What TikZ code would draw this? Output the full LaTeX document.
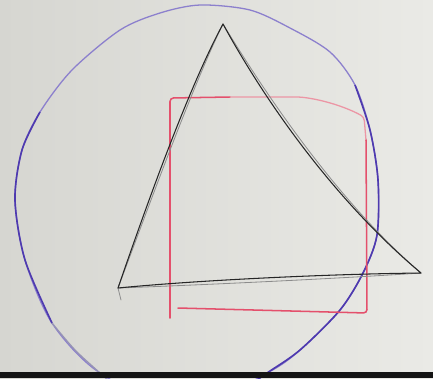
\documentclass[tikz,border=0pt]{standalone}
\usetikzlibrary{calc}
\definecolor{PenPurple}{RGB}{78,58,175}
\definecolor{PalePurple}{RGB}{140,128,205}
\definecolor{FadedPurple}{RGB}{150,148,180}
\definecolor{MarkerRed}{RGB}{228,80,108}
\definecolor{PaleRed}{RGB}{236,150,165}
\definecolor{BoardLight}{RGB}{234,234,230}
\definecolor{BoardDark}{RGB}{214,214,209}
\tikzset{
  ring/.style={draw=PalePurple,line width=1.1pt},
  ringdark/.style={draw=PenPurple,line width=1.4pt},
  ringfaded/.style={draw=FadedPurple,line width=1.1pt},
  sq/.style={draw=MarkerRed,line width=1.3pt,rounded corners=3pt,line cap=round},
  sqpale/.style={draw=PaleRed,line width=1.1pt,rounded corners=3pt,line cap=round},
  pen/.style={draw=black!85,line width=0.9pt,line cap=round,line join=round},
  ghost/.style={draw=black!45,line width=0.7pt,line cap=round},
}

\begin{document}
\begin{tikzpicture}[x=0.03cm,y=-0.03cm]
\shade[left color=BoardDark,right color=BoardLight] (0,0) rectangle (433,378);
\useasboundingbox (0,0) rectangle (433,378);
\draw[ring] plot[smooth cycle] coordinates {(200,5) (250,10) (290,28) (330,52) (355,85) (370,130) (378,180) (377,235) (363,273) (340,310) (300,350) (267,373) (185,410) (100,373) (52,323) (25,260) (15,200) (22,150) (40,112) (72,70) (120,30) (160,13)};
\draw[ringdark] plot[smooth] coordinates {(40,112) (22,150) (15,200) (25,260) (52,323)};
\draw[ringdark] plot[smooth] coordinates {(355,85) (370,130) (378,180) (377,235) (363,273) (340,310) (300,350) (267,373) (250,385)};
\draw[ringfaded] plot[smooth] coordinates {(52,323) (75,350) (100,373) (110,382)};
\draw[sq] (230,97) -- (170,98) -- (170,318);
\draw[sqpale] (230,97) -- (300,97) .. controls (325,100) and (348,108) .. (364,117) -- (366,140);
\draw[sq] (366,140) -- (367,313) -- (178,308);
\coordinate (A) at (223,24);
\coordinate (B) at (118,288);
\coordinate (C) at (421,273);
\draw[ghost] (121,300) -- (B) .. controls (153,195) and (193,85) .. (A);
\draw[ghost] (A) .. controls (274,108) and (344,207) .. (C);
\draw[ghost] (C) .. controls (330,279) and (200,285) .. (B);
\draw[pen] (B) .. controls (150,195) and (190,85) .. (A) .. controls (270,110) and (340,205) .. (C) .. controls (330,274) and (200,280) .. (B);
\fill[black!92] (0,372) rectangle (433,378);
\end{tikzpicture}
\end{document}
